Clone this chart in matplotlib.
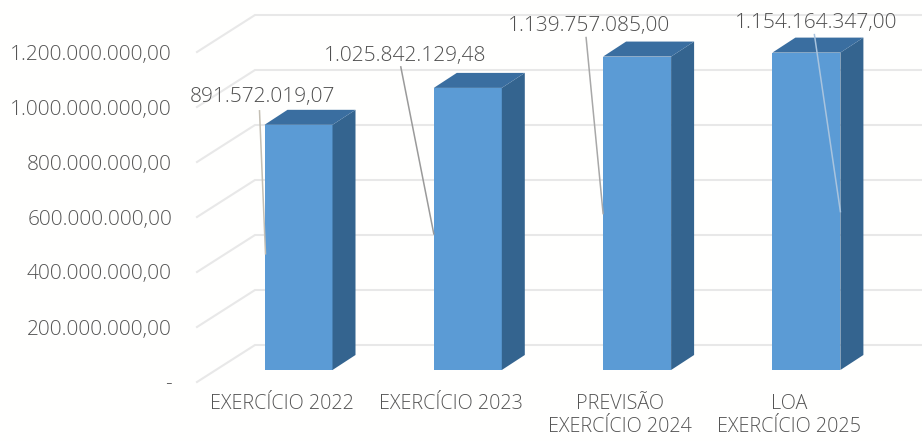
#!/usr/bin/env python3
"""
Receita por exercicio, barras com aparencia 3D
"""

import matplotlib

matplotlib.use("Agg")
import matplotlib.pyplot as plt

plt.rcParams["font.family"] = ["Open Sans", "DejaVu Sans"]

categories = ["EXERCÍCIO 2022", "EXERCÍCIO 2023", "PREVISÃO\nEXERCÍCIO 2024", "LOA\nEXERCÍCIO 2025"]
values = [891572019.07, 1025842129.48, 1139757085.00, 1154164347.00]
value_labels = ["891.572.019,07", "1.025.842.129,48", "1.139.757.085,00", "1.154.164.347,00"]
ticks = [0, 200000000, 400000000, 600000000, 800000000, 1000000000, 1200000000]
tick_labels = ["-", "200.000.000,00", "400.000.000,00", "600.000.000,00",
               "800.000.000,00", "1.000.000.000,00", "1.200.000.000,00"]

W, H = 922, 441
PX_PER_CAT = 169.3
PX_PER_VALUE = 55 / 200000000
X0_PX = 298.5
Y0_PX = 370


def dx(px):
    return px / PX_PER_CAT


def dy(px):
    return px / PX_PER_VALUE


fig = plt.figure(figsize=(W / 100, H / 100), dpi=100, facecolor="#fffffe")
ax = fig.add_axes([0, 0, 1, 1])
ax.set_xlim(-X0_PX / PX_PER_CAT, (W - X0_PX) / PX_PER_CAT)
ax.set_ylim(-dy(H - Y0_PX), dy(Y0_PX))
ax.axis("off")

# paredes: linha diagonal a esquerda e horizontal no fundo
grid_color = "#e8e8e8"
wall_x = dx(255 - X0_PX)
front_x = dx(197 - X0_PX)
for t, lab in zip(ticks, tick_labels):
    y_back = t + dy(25)
    y_front = t - dy(12)
    ax.plot([front_x, wall_x, dx(W - X0_PX)], [y_front, y_back, y_back],
            color=grid_color, lw=1.5, zorder=1, solid_joinstyle="miter")
    ax.text(dx(172 - X0_PX), t - dy(12), lab, ha="right", va="center_baseline",
            fontsize=15, fontweight="light", color="#555555", zorder=5)

# barras
bar_w = 68 / PX_PER_CAT
depth_x = dx(23)
depth_y = dy(15)
for i, v in enumerate(values):
    ax.bar(i, v, width=bar_w, color="#5b9bd5", linewidth=0, zorder=3)
    r = i + bar_w / 2
    l = i - bar_w / 2
    ax.fill([r, r + depth_x, r + depth_x, r], [0, depth_y, v + depth_y, v],
            color="#34648f", linewidth=0, zorder=3)
    ax.fill([l, l + depth_x, r + depth_x, r], [v, v + depth_y, v + depth_y, v],
            color="#3a6ea0", linewidth=0, zorder=3)

# rotulos de valor com linha de chamada (deslocamentos em pixels)
label_pos = [(-36, 30), (-63, 34), (-48, 33), (10, 32)]
leader_start = [(-39, 14), (-67, 21), (-51, 19), (8, 18)]
leader_end = [(-33, -129), (-34, -146), (-34, -157), (34, -159)]
leader_colors = ["#c4bfb4", "#9a9a9a", "#a8a8a8", "#a9c4de"]
for i, v in enumerate(values):
    ax.text(i + dx(label_pos[i][0]), v + dy(label_pos[i][1]), value_labels[i],
            ha="center", va="center_baseline", fontsize=15, fontweight="light",
            color="#4f4f4f", zorder=6)
    ax.plot([i + dx(leader_start[i][0]), i + dx(leader_end[i][0])],
            [v + dy(leader_start[i][1]), v + dy(leader_end[i][1])],
            color=leader_colors[i], lw=1.1, zorder=4)

# categorias
for i, cat in enumerate(categories):
    ax.text(i + dx(-17), -dy(24), cat, ha="center", va="top", fontsize=14.2,
            fontweight="light", color="#555555", linespacing=1.2, zorder=5)

fig.savefig("out.png", dpi=100, facecolor=fig.get_facecolor())
